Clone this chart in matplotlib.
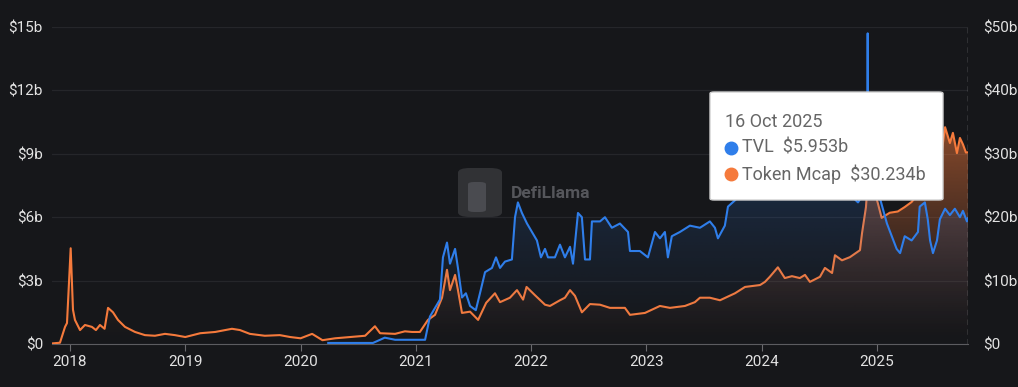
import numpy as np
import matplotlib
matplotlib.use("Agg")
import matplotlib.pyplot as plt
import matplotlib.colors as mcolors
from matplotlib.patches import FancyBboxPatch
from matplotlib.lines import Line2D

plt.rcParams['font.family'] = ['Roboto', 'DejaVu Sans']

# ---------------- data ----------------
# Token Mcap (right axis, $b), x in decimal years
mcap_x = [2017.85, 2017.913, 2017.957, 2017.974, 2018.006, 2018.026, 2018.043, 2018.087, 2018.13, 2018.19,
          2018.225, 2018.26, 2018.30, 2018.33, 2018.373, 2018.416, 2018.477, 2018.564, 2018.65, 2018.737,
          2018.824, 2018.91, 2019.0, 2019.13, 2019.26, 2019.405, 2019.474, 2019.56, 2019.69, 2019.82,
          2019.91, 2020.0, 2020.1, 2020.19, 2020.30, 2020.43, 2020.56, 2020.645, 2020.69, 2020.82,
          2020.905, 2020.966, 2021.035, 2021.105, 2021.166, 2021.227, 2021.27, 2021.296, 2021.34, 2021.365,
          2021.40, 2021.47, 2021.54, 2021.61, 2021.686, 2021.73, 2021.816, 2021.877, 2021.93, 2021.96,
          2022.033, 2022.12, 2022.163, 2022.25, 2022.293, 2022.337, 2022.38, 2022.44, 2022.51, 2022.597,
          2022.683, 2022.813, 2022.857, 2022.987, 2023.117, 2023.204, 2023.334, 2023.42, 2023.464, 2023.55,
          2023.638, 2023.768, 2023.855, 2023.985, 2024.028, 2024.07, 2024.14, 2024.20, 2024.262, 2024.33,
          2024.375, 2024.418, 2024.505, 2024.548, 2024.61, 2024.635, 2024.696, 2024.765, 2024.852, 2024.87,
          2024.904, 2024.925, 2024.98, 2025.007, 2025.04, 2025.11, 2025.18, 2025.24, 2025.30, 2025.37,
          2025.46, 2025.545, 2025.59, 2025.632, 2025.658, 2025.693, 2025.719, 2025.745, 2025.771, 2025.789]
mcap_v = [0.1, 0.2, 2.7, 3.3, 15.1, 5.4, 3.8, 2.2, 3.0, 2.7,
          2.2, 3.0, 2.4, 5.7, 5.0, 3.8, 2.7, 1.9, 1.4, 1.3,
          1.6, 1.4, 1.1, 1.7, 1.9, 2.4, 2.2, 1.6, 1.3, 1.4,
          1.1, 0.9, 1.6, 0.6, 0.9, 1.1, 1.3, 2.8, 1.7, 1.6,
          2.0, 1.9, 1.9, 3.8, 4.6, 7.3, 11.7, 8.5, 10.9, 8.5,
          4.9, 5.1, 3.8, 6.5, 8.0, 6.6, 7.3, 8.5, 7.0, 9.0,
          7.7, 6.2, 6.0, 6.9, 7.3, 8.5, 7.6, 5.0, 6.3, 6.2,
          5.7, 5.7, 4.6, 4.9, 6.0, 5.7, 6.0, 6.6, 7.3, 7.3,
          6.9, 8.0, 9.0, 9.3, 9.8, 10.6, 12.1, 10.4, 10.7, 10.4,
          10.9, 9.8, 10.6, 12.0, 11.2, 14.0, 13.2, 13.7, 14.8, 17.5,
          21.6, 27.0, 24.0, 22.2, 19.9, 20.7, 20.9, 21.6, 22.4, 24.0,
          24.5, 28.0, 34.2, 31.7, 33.3, 30.1, 32.5, 31.5, 30.2, 30.234]

# TVL (left axis, $b)
tvl_x = [2020.24, 2020.628, 2020.69, 2020.73, 2020.82, 2020.95, 2021.08, 2021.122, 2021.209, 2021.235,
         2021.27, 2021.296, 2021.34, 2021.365, 2021.40, 2021.434, 2021.47, 2021.52, 2021.556, 2021.60,
         2021.66, 2021.695, 2021.73, 2021.773, 2021.833, 2021.86, 2021.885, 2021.92, 2021.964, 2022.007,
         2022.05, 2022.085, 2022.12, 2022.146, 2022.206, 2022.25, 2022.293, 2022.337, 2022.363, 2022.406,
         2022.44, 2022.467, 2022.51, 2022.527, 2022.597, 2022.64, 2022.70, 2022.77, 2022.84, 2022.857,
         2022.943, 2023.013, 2023.074, 2023.117, 2023.16, 2023.186, 2023.22, 2023.29, 2023.377, 2023.464,
         2023.55, 2023.594, 2023.62, 2023.68, 2023.707, 2023.768, 2023.9, 2024.07, 2024.245, 2024.418,
         2024.59, 2024.72, 2024.835, 2024.916, 2024.919, 2024.922, 2025.02, 2025.086, 2025.17, 2025.20,
         2025.24, 2025.30, 2025.355, 2025.37, 2025.415, 2025.44, 2025.46, 2025.485, 2025.52, 2025.545,
         2025.59, 2025.632, 2025.675, 2025.719, 2025.745, 2025.78, 2025.789]
tvl_v = [0.05, 0.05, 0.2, 0.3, 0.2, 0.2, 0.2, 1.3, 2.1, 4.1,
         4.8, 3.8, 4.5, 3.6, 2.2, 2.4, 1.8, 1.6, 2.4, 3.4,
         3.6, 4.1, 3.6, 3.9, 4.0, 6.0, 6.7, 6.2, 5.7, 5.3,
         4.9, 4.1, 4.5, 4.1, 4.1, 4.7, 4.1, 4.6, 3.8, 6.2,
         6.0, 4.0, 4.0, 5.8, 5.8, 6.0, 5.5, 5.7, 5.3, 4.4,
         4.4, 4.1, 5.3, 5.0, 5.3, 4.1, 5.1, 5.3, 5.6, 5.5,
         5.8, 5.5, 5.0, 5.6, 6.5, 6.8, 7.5, 8.0, 7.8, 7.6,
         7.9, 7.3, 6.7, 7.4, 14.7, 7.4, 7.0, 5.7, 4.5, 4.3,
         5.1, 4.9, 5.3, 6.5, 6.7, 5.9, 4.9, 4.3, 4.9, 5.9,
         6.4, 6.1, 6.4, 6.0, 6.3, 5.8, 5.953]

year_ticks = [2018, 2019, 2020, 2021, 2022, 2023, 2024, 2025]
left_ticks = [0, 3, 6, 9, 12, 15]
left_labels = ['$0', '$3b', '$6b', '$9b', '$12b', '$15b']
right_ticks = [0, 10, 20, 30, 40, 50]
right_labels = ['$0', '$10b', '$20b', '$30b', '$40b', '$50b']

tooltip_date = '16 Oct 2025'
tooltip_rows = [('TVL', '$5.953b'), ('Token Mcap', '$30.234b')]

# ---------------- style ----------------
BG = '#16171a'
BLUE = '#2f7eea'
ORANGE = '#f57a3c'
TXT = '#e2e2e2'
X0, X1 = 2017.844, 2025.789

W, H = 1018, 387
fig = plt.figure(figsize=(W / 100, H / 100), dpi=100, facecolor=BG)
rect = [52 / W, 1 - 344 / H, (968 - 52) / W, (344 - 27) / H]
ax2 = fig.add_axes(rect)            # token mcap, right axis (drawn below)
ax1 = fig.add_axes(rect, zorder=3)  # tvl, left axis (drawn on top)
ax2.set_facecolor(BG)
ax1.patch.set_visible(False)


def gradient_fill(ax, x, y, color, ymax, amax, power=1.3):
    poly = ax.fill_between(x, y, 0, facecolor='none', edgecolor='none')
    path = poly.get_paths()[0]
    n = 300
    rgb = mcolors.to_rgb(color)
    img = np.zeros((n, 2, 4))
    img[..., :3] = rgb
    frac = np.linspace(0, 1, n) ** power
    img[..., 3] = (amax * frac)[:, None]
    im = ax.imshow(img, aspect='auto', origin='lower', extent=[min(x), max(x), 0, ymax],
                   zorder=1, interpolation='bilinear')
    im.set_clip_path(path, transform=ax.transData)


# grid behind everything (on lower axes, in left-axis units mapped to right axis)
ax2.set_ylim(0, 50)
ax2.set_xlim(X0, X1)
ax2.set_yticks(right_ticks)
ax2.grid(axis='y', color='#25262a', lw=0.9, zorder=0)
ax2.set_axisbelow(True)

# mcap
gradient_fill(ax2, mcap_x, mcap_v, ORANGE, 50, 0.85)
ax2.plot(mcap_x, mcap_v, color=ORANGE, lw=1.5, zorder=3, solid_joinstyle='round')

# tvl
gradient_fill(ax1, tvl_x, tvl_v, BLUE, 15, 0.45)
ax1.plot(tvl_x, tvl_v, color=BLUE, lw=1.5, zorder=4, solid_joinstyle='round')
ax1.set_ylim(0, 15)
ax1.set_xlim(X0, X1)

# axes styling
for ax in (ax1, ax2):
    for s in ax.spines.values():
        s.set_visible(False)
ax2.spines['bottom'].set_visible(True)
ax2.spines['bottom'].set_color('#5c5c60')

ax1.set_yticks(left_ticks)
ax1.set_yticklabels(left_labels)
ax1.tick_params(axis='y', length=0, pad=6.5, labelsize=11, labelcolor=TXT)
ax1.tick_params(axis='x', which='both', bottom=False, labelbottom=False)

ax2.yaxis.tick_right()
ax2.set_yticklabels(right_labels)
ax2.tick_params(axis='y', length=0, pad=11, labelsize=11, labelcolor=TXT)
ax2.set_xticks(year_ticks)
ax2.set_xticklabels([str(y) for y in year_ticks])
ax2.tick_params(axis='x', length=5, color='#6a6a6e', pad=3, labelsize=11, labelcolor=TXT)

# hover crosshair
ax1.axvline(X1 - 0.002, color='#9a9a9a', lw=1.0, ls=(0, (4, 3)), zorder=5)

# watermark
fig.add_artist(FancyBboxPatch((458 / W, 1 - 217 / H), 44 / W, 49 / H,
                              boxstyle='round,pad=0,rounding_size=0.012',
                              transform=fig.transFigure, facecolor='#36373b', edgecolor='none',
                              alpha=0.85, zorder=6))
fig.add_artist(FancyBboxPatch((468 / W, 1 - 212 / H), 18 / W, 30 / H,
                              boxstyle='round,pad=0,rounding_size=0.006',
                              transform=fig.transFigure, facecolor='#4a4b50', edgecolor='none',
                              zorder=7))
fig.text(511 / W, 1 - 193 / H, 'DefiLlama', color='#55565b', fontsize=12.5,
         fontweight='bold', va='center', ha='left', zorder=7)

# tooltip
fig.add_artist(FancyBboxPatch((710 / W, 1 - 200 / H), 233 / W, 108 / H,
                              boxstyle='round,pad=0,rounding_size=0.004',
                              transform=fig.transFigure, facecolor='white', edgecolor='#d0d0d0',
                              lw=1, zorder=20))
fig.text(725 / W, 1 - 122 / H, tooltip_date, color='#666666', fontsize=13,
         va='center', ha='left', zorder=21)
dot_colors = [BLUE, ORANGE]
for i, (name, val) in enumerate(tooltip_rows):
    yy = 1 - (148 + 26 * i) / H
    fig.add_artist(Line2D([731 / W], [yy], marker='o', markersize=9, color=dot_colors[i],
                          transform=fig.transFigure, zorder=21))
    fig.text(742 / W, yy, f'{name}  {val}', color='#666666', fontsize=13,
             va='center', ha='left', zorder=21)

fig.savefig('out.png', dpi=100, facecolor=BG)
